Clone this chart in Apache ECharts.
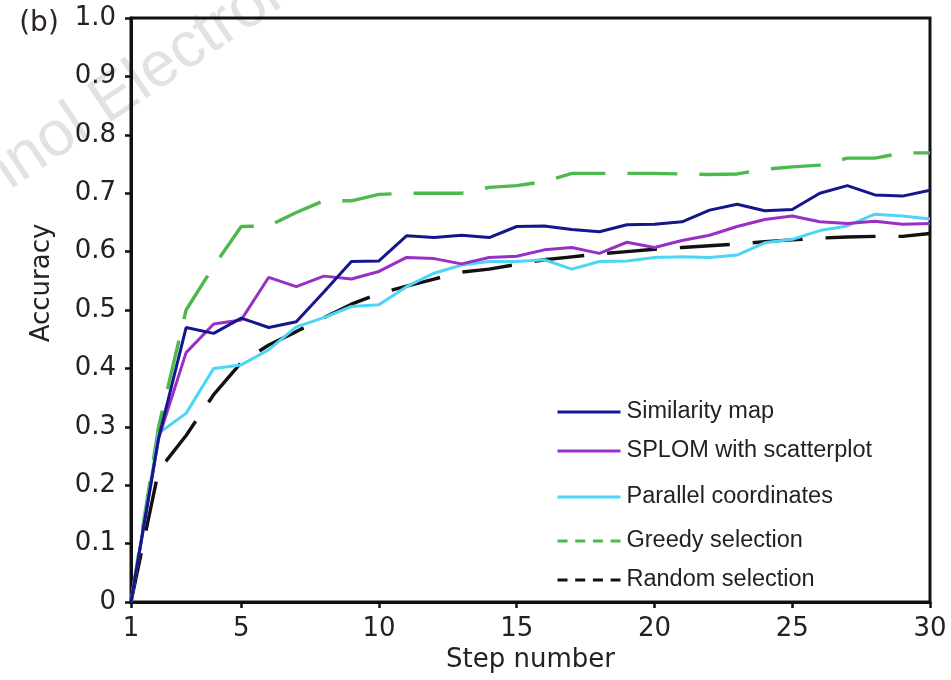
<!DOCTYPE html>
<html>
<head>
<meta charset="utf-8">
<script src="https://cdn.jsdelivr.net/npm/echarts@6/dist/echarts.min.js"></script>
<style>
html,body{margin:0;padding:0;background:#fff;}
#chart{width:951px;height:680px;}
</style>
</head>
<body>
<div id="chart"></div>
<script>
// ---- data ----
var steps = [1,2,3,4,5,6,7,8,9,10,11,12,13,14,15,16,17,18,19,20,21,22,23,24,25,26,27,28,29,30];
var xTickValues = [1,5,10,15,20,25,30];
var seriesNames = ['Similarity map','SPLOM with scatterplot','Parallel coordinates','Greedy selection','Random selection'];
var similarityMap = [0,0.28,0.470,0.460,0.486,0.470,0.480,0.531,0.583,0.584,0.627,0.624,0.628,0.624,0.643,0.644,0.638,0.634,0.646,0.647,0.651,0.671,0.681,0.670,0.672,0.700,0.713,0.697,0.695,0.705];
var splomScatter = [0,0.28,0.427,0.476,0.483,0.556,0.540,0.558,0.553,0.566,0.590,0.588,0.579,0.590,0.592,0.603,0.607,0.597,0.616,0.607,0.619,0.628,0.643,0.655,0.661,0.651,0.648,0.652,0.647,0.648];
var parallelCoords = [0,0.289,0.323,0.400,0.406,0.432,0.471,0.487,0.506,0.509,0.540,0.563,0.577,0.583,0.583,0.586,0.570,0.583,0.584,0.590,0.591,0.590,0.594,0.615,0.621,0.636,0.644,0.664,0.661,0.656];
var greedySelection = [0,0.30,0.50,0.575,0.643,0.644,0.667,0.687,0.687,0.698,0.700,0.700,0.700,0.710,0.713,0.720,0.734,0.734,0.734,0.734,0.733,0.732,0.733,0.741,0.745,0.748,0.760,0.760,0.769,0.769];
var randomSelection = [0,0.225,0.285,0.355,0.410,0.440,0.463,0.487,0.510,0.528,0.541,0.553,0.565,0.570,0.578,0.586,0.591,0.596,0.600,0.604,0.607,0.610,0.613,0.617,0.620,0.623,0.625,0.626,0.626,0.631];

function pairs(vals){ return steps.map(function(s,i){ return [s, vals[i]]; }); }

var axisFont = 'DejaVu Sans';
var legendFont = '"Liberation Sans", Arial, sans-serif';
var colors = ['#15168c','#9a2fc6','#4dd5f6','#4cb94c','#111111'];
var legendTops = [400, 439, 485, 529, 568];

var chart = echarts.init(document.getElementById('chart'), null, {renderer:'canvas'});

function mkLegend(i, dashed){
  return {
    data:[seriesNames[i]],
    left: 556, top: legendTops[i],
    orient:'vertical', padding:0,
    itemWidth:63, itemHeight:14, itemGap:0,
    textStyle:{fontFamily:legendFont, fontSize:23.5, color:'#222', padding:[0,0,0,1]},
    itemStyle:{color:'rgba(0,0,0,0)', borderWidth:0, opacity:0},
    lineStyle: dashed ? {type:[10,7.7], width:3} : {width:3},
    selectedMode:false
  };
}

var option = {
  animation:false,
  backgroundColor:'#fff',
  grid:{left:131, right:21, top:18, bottom:78, show:true, borderColor:'#111', borderWidth:3, backgroundColor:'transparent'},
  legend:[mkLegend(0,false), mkLegend(1,false), mkLegend(2,false), mkLegend(3,true), mkLegend(4,true)],
  xAxis:{
    type:'value', min:1, max:30,
    name:'Step number', nameLocation:'middle', nameGap:45,
    nameTextStyle:{fontFamily:axisFont, fontSize:26, color:'#222'},
    axisLine:{show:true, lineStyle:{color:'#111', width:3}},
    axisTick:{show:true, length:6, lineStyle:{color:'#111', width:2.5}, customValues:xTickValues},
    axisLabel:{fontFamily:axisFont, fontSize:26, color:'#222', margin:14, customValues:xTickValues},
    splitLine:{show:false}
  },
  yAxis:{
    type:'value', min:0, max:1, interval:0.1,
    axisLine:{show:true, lineStyle:{color:'#111', width:3}},
    axisTick:{show:true, length:6, lineStyle:{color:'#111', width:2.5}},
    axisLabel:{fontFamily:axisFont, fontSize:26, color:'#222', margin:15,
      formatter:function(v){ return v === 0 ? '0' : v.toFixed(1); }},
    splitLine:{show:false}
  },
  graphic:[
    {type:'text', x:0, y:214, rotation:34*Math.PI/180, z:-10, silent:true,
      style:{text:'nnol Electronic', fontFamily:'"Liberation Sans", Arial', fontSize:64, fill:'#e2e2e2', verticalAlign:'bottom'}},
    {type:'text', x:39, y:24, style:{text:'(b)', fontFamily:axisFont, fontSize:28, fill:'#2e2424', align:'center', verticalAlign:'middle'}},
    {type:'text', x:42, y:283, rotation:Math.PI/2, style:{text:'Accuracy', fontFamily:axisFont, fontSize:26, fill:'#222', align:'center', verticalAlign:'middle'}}
  ],
  series:[
    {name:seriesNames[3], type:'line', data:pairs(greedySelection), symbol:'none', z:2,
      lineStyle:{color:colors[3], width:3.4, type:[50,22], dashOffset:0}, itemStyle:{color:colors[3]}},
    {name:seriesNames[4], type:'line', data:pairs(randomSelection), symbol:'none', z:2,
      lineStyle:{color:colors[4], width:3.4, type:[50,23], dashOffset:0}, itemStyle:{color:colors[4]}},
    {name:seriesNames[2], type:'line', data:pairs(parallelCoords), symbol:'none', z:3,
      lineStyle:{color:colors[2], width:3}, itemStyle:{color:colors[2]}},
    {name:seriesNames[1], type:'line', data:pairs(splomScatter), symbol:'none', z:3,
      lineStyle:{color:colors[1], width:3}, itemStyle:{color:colors[1]}},
    {name:seriesNames[0], type:'line', data:pairs(similarityMap), symbol:'none', z:4,
      lineStyle:{color:colors[0], width:3}, itemStyle:{color:colors[0]}}
  ]
};
chart.setOption(option);
</script>
</body>
</html>
